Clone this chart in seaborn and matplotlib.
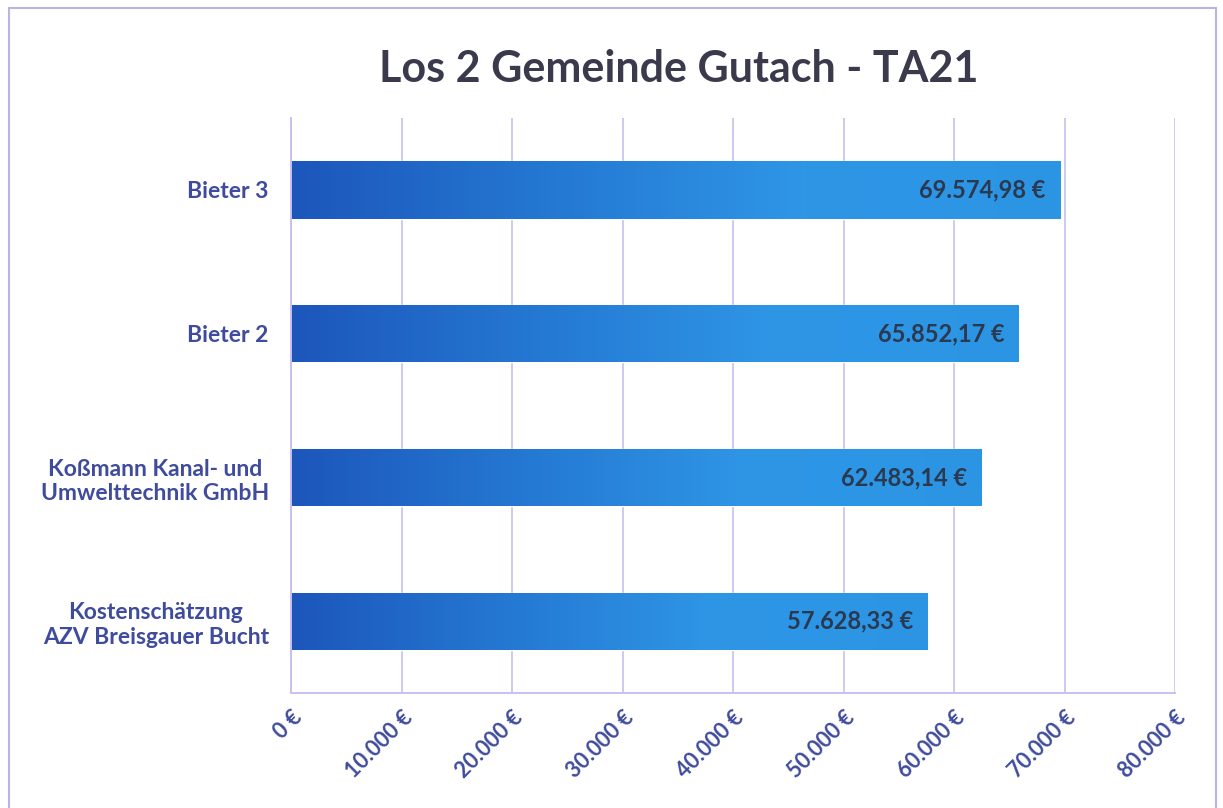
import numpy as np
import pandas as pd
import matplotlib
matplotlib.use("Agg")
import matplotlib.pyplot as plt
import seaborn as sns
from matplotlib.colors import LinearSegmentedColormap
from matplotlib.patches import Rectangle

# ==========================================
# DATA
# ==========================================

bidders = [
    "Bieter 3",
    "Bieter 2",
    "Koßmann Kanal- und\nUmwelttechnik GmbH",
    "Kostenschätzung\nAZV Breisgauer Bucht",
]
amounts = [69574.98, 65852.17, 62483.14, 57628.33]
amount_labels = ["69.574,98 €", "65.852,17 €", "62.483,14 €", "57.628,33 €"]
x_ticks = [0, 10000, 20000, 30000, 40000, 50000, 60000, 70000, 80000]
x_tick_labels = ["0 €", "10.000 €", "20.000 €", "30.000 €", "40.000 €",
                 "50.000 €", "60.000 €", "70.000 €", "80.000 €"]

df = pd.DataFrame({"Bieter": bidders, "Betrag": amounts})

# ==========================================
# STYLE
# ==========================================

sns.set_style("white")
plt.rcParams["font.family"] = ["Lato", "DejaVu Sans"]

label_col = "#3f4b9c"
grid_col = "#c6c1ee"

fig = plt.figure(figsize=(12.23, 8.08), dpi=100)
ax = fig.add_axes([0.238, 0.142, 0.723, 0.712])

sns.barplot(
    data=df,
    x="Betrag",
    y="Bieter",
    orient="h",
    width=0.4,
    color="#2a7fd8",
    ax=ax
)

# gradient fill for the bars
cmap = LinearSegmentedColormap.from_list(
    "bar", ["#1d56bb", "#2478d2", "#2f96e6", "#2b95e4"]
)
grad = np.linspace(0, 1, 256).reshape(1, -1)
for patch in ax.patches:
    x0, y0 = patch.get_x(), patch.get_y()
    w, h = patch.get_width(), patch.get_height()
    im = ax.imshow(
        grad,
        extent=[x0, x0 + w, y0 + h, y0],
        aspect="auto",
        cmap=cmap,
        zorder=patch.get_zorder() + 0.1
    )
    im.set_clip_path(patch)

for i, (val, lab) in enumerate(zip(amounts, amount_labels)):
    ax.text(
        val - 1300, i, lab,
        ha="right", va="center",
        fontsize=17, fontweight="bold",
        color="#2b3950", zorder=5
    )

ax.set_xlim(0, 80000)
ax.set_ylim(3.5, -0.5)
ax.set_xticks(x_ticks)
ax.set_xticklabels(
    x_tick_labels,
    rotation=45, ha="right", rotation_mode="anchor",
    fontsize=15.5, fontweight="bold", color=label_col
)
ax.set_yticks(range(len(bidders)))
ax.set_yticklabels(
    bidders, fontsize=16.5, fontweight="bold",
    color=label_col, ha="right", multialignment="center"
)
ax.tick_params(axis="y", length=0, pad=16)
ax.tick_params(axis="x", length=6, color=grid_col, width=1.2, pad=4)

# minor ticks at category boundaries on the y axis
ax.set_yticks([0.5, 1.5, 2.5], minor=True)
ax.tick_params(axis="y", which="minor", length=6, color=grid_col, width=1.2)

ax.set_axisbelow(True)
ax.xaxis.grid(True, color=grid_col, linewidth=1.2)
ax.set_xlabel("")
ax.set_ylabel("")

for side in ["top", "right"]:
    ax.spines[side].set_visible(False)
for side in ["left", "bottom"]:
    ax.spines[side].set_color(grid_col)
    ax.spines[side].set_linewidth(1.4)

fig.text(
    0.555, 0.914, "Los 2 Gemeinde Gutach - TA21",
    ha="center", va="center",
    fontsize=31, fontweight="bold", color="#3a3a4c"
)

# outer chart border
fig.patches.append(Rectangle(
    (0.007, -0.02), 0.987, 1.01,
    transform=fig.transFigure, fill=False,
    edgecolor="#b9b4e0", linewidth=1.5
))

plt.savefig("out.png", dpi=100)
